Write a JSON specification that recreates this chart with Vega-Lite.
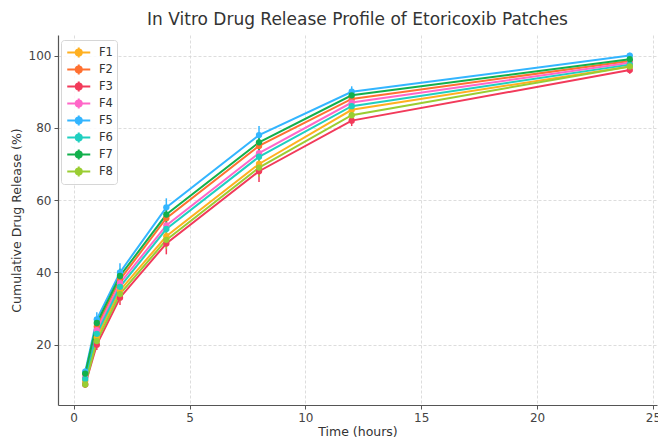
{
  "$schema": "https://vega.github.io/schema/vega-lite/v6.json",
  "width": 599,
  "height": 370,
  "autosize": {"type": "none"},
  "padding": {"left": 58, "top": 35, "right": 1, "bottom": 34},
  "background": "white",
  "title": {
    "text": "In Vitro Drug Release Profile of Etoricoxib Patches",
    "font": "DejaVu Sans",
    "fontSize": 17,
    "fontWeight": "normal",
    "color": "#333333",
    "anchor": "middle",
    "offset": 6
  },
  "config": {
    "view": {"stroke": null},
    "axis": {
      "labelFont": "DejaVu Sans",
      "labelFontSize": 12,
      "labelColor": "#444444",
      "titleFont": "DejaVu Sans",
      "titleFontSize": 12.5,
      "titleFontWeight": "normal",
      "titleColor": "#333333",
      "domainColor": "#555555",
      "domainWidth": 1.2,
      "tickColor": "#555555",
      "tickSize": 4,
      "gridColor": "#d4d4d4",
      "gridDash": [3, 2],
      "gridWidth": 0.8
    }
  },
  "data": {
    "values": [
      {"series": "F1", "time": 0.5, "release": 10, "sd": 1.0},
      {"series": "F1", "time": 1, "release": 22, "sd": 1.5},
      {"series": "F1", "time": 2, "release": 35, "sd": 2.0},
      {"series": "F1", "time": 4, "release": 50, "sd": 2.5},
      {"series": "F1", "time": 8, "release": 70, "sd": 2.5},
      {"series": "F1", "time": 12, "release": 85, "sd": 2.0},
      {"series": "F1", "time": 24, "release": 97, "sd": 1.0},
      {"series": "F2", "time": 0.5, "release": 12, "sd": 1.0},
      {"series": "F2", "time": 1, "release": 25, "sd": 1.5},
      {"series": "F2", "time": 2, "release": 38, "sd": 2.0},
      {"series": "F2", "time": 4, "release": 55, "sd": 2.5},
      {"series": "F2", "time": 8, "release": 75, "sd": 2.5},
      {"series": "F2", "time": 12, "release": 88, "sd": 1.5},
      {"series": "F2", "time": 24, "release": 98.5, "sd": 1.0},
      {"series": "F3", "time": 0.5, "release": 9, "sd": 1.0},
      {"series": "F3", "time": 1, "release": 20, "sd": 1.5},
      {"series": "F3", "time": 2, "release": 33, "sd": 2.0},
      {"series": "F3", "time": 4, "release": 48, "sd": 3.0},
      {"series": "F3", "time": 8, "release": 68, "sd": 3.0},
      {"series": "F3", "time": 12, "release": 82, "sd": 1.5},
      {"series": "F3", "time": 24, "release": 96, "sd": 1.0},
      {"series": "F4", "time": 0.5, "release": 11, "sd": 1.0},
      {"series": "F4", "time": 1, "release": 24, "sd": 1.5},
      {"series": "F4", "time": 2, "release": 37, "sd": 2.0},
      {"series": "F4", "time": 4, "release": 53, "sd": 2.5},
      {"series": "F4", "time": 8, "release": 73, "sd": 2.5},
      {"series": "F4", "time": 12, "release": 87, "sd": 1.5},
      {"series": "F4", "time": 24, "release": 98, "sd": 1.0},
      {"series": "F5", "time": 0.5, "release": 12.5, "sd": 1.0},
      {"series": "F5", "time": 1, "release": 27, "sd": 2.0},
      {"series": "F5", "time": 2, "release": 40, "sd": 2.5},
      {"series": "F5", "time": 4, "release": 58, "sd": 2.5},
      {"series": "F5", "time": 8, "release": 78, "sd": 2.5},
      {"series": "F5", "time": 12, "release": 90, "sd": 1.5},
      {"series": "F5", "time": 24, "release": 100, "sd": 0.8},
      {"series": "F6", "time": 0.5, "release": 10.5, "sd": 1.0},
      {"series": "F6", "time": 1, "release": 23, "sd": 1.5},
      {"series": "F6", "time": 2, "release": 36, "sd": 2.0},
      {"series": "F6", "time": 4, "release": 52, "sd": 2.5},
      {"series": "F6", "time": 8, "release": 72, "sd": 2.5},
      {"series": "F6", "time": 12, "release": 86, "sd": 1.5},
      {"series": "F6", "time": 24, "release": 97.5, "sd": 1.0},
      {"series": "F7", "time": 0.5, "release": 12, "sd": 1.0},
      {"series": "F7", "time": 1, "release": 26, "sd": 1.5},
      {"series": "F7", "time": 2, "release": 39, "sd": 2.0},
      {"series": "F7", "time": 4, "release": 56, "sd": 2.5},
      {"series": "F7", "time": 8, "release": 76, "sd": 2.5},
      {"series": "F7", "time": 12, "release": 89, "sd": 1.5},
      {"series": "F7", "time": 24, "release": 99, "sd": 1.0},
      {"series": "F8", "time": 0.5, "release": 9, "sd": 1.0},
      {"series": "F8", "time": 1, "release": 21, "sd": 1.5},
      {"series": "F8", "time": 2, "release": 34, "sd": 2.0},
      {"series": "F8", "time": 4, "release": 49, "sd": 2.5},
      {"series": "F8", "time": 8, "release": 69, "sd": 2.5},
      {"series": "F8", "time": 12, "release": 83.5, "sd": 1.5},
      {"series": "F8", "time": 24, "release": 97, "sd": 1.0}
    ]
  },
  "encoding": {
    "x": {
      "field": "time",
      "type": "quantitative",
      "title": "Time (hours)",
      "scale": {"domain": [-0.675, 25.175], "nice": false, "zero": false},
      "axis": {"values": [0, 5, 10, 15, 20, 25], "labelPadding": 3, "titlePadding": 2}
    },
    "y": {
      "field": "release",
      "type": "quantitative",
      "title": "Cumulative Drug Release (%)",
      "scale": {"domain": [3.3, 105.7], "nice": false, "zero": false},
      "axis": {"values": [20, 40, 60, 80, 100], "labelPadding": 3, "titlePadding": 5}
    },
    "color": {
      "field": "series",
      "type": "nominal",
      "scale": {
        "domain": ["F1", "F2", "F3", "F4", "F5", "F6", "F7", "F8"],
        "range": ["#FFB020", "#FF7030", "#F23A5A", "#FF66C8", "#33B5FF", "#1FCFC0", "#12B04C", "#9ACD32"]
      }
    }
  },
  "layer": [
    {
      "mark": {"type": "line", "strokeWidth": 2},
      "encoding": {
        "color": {
          "field": "series",
          "type": "nominal",
          "legend": {
            "title": null,
            "orient": "none",
            "legendX": 3,
            "legendY": 5,
            "symbolType": "M-5.75,0H5.75M0,-2.5V2.5M1.5,0A1.5,1.5 0 1,1 -1.5,0A1.5,1.5 0 1,1 1.5,0",
            "symbolSize": 16,
            "symbolOffset": 8,
            "symbolStrokeWidth": 2,
            "labelFont": "DejaVu Sans",
            "labelFontSize": 11.5,
            "labelColor": "#333333",
            "labelOffset": 14.5,
            "clipHeight": 17,
            "rowPadding": 0,
            "padding": 4,
            "strokeColor": "#d6d6d6",
            "fillColor": "rgba(255,255,255,0.85)",
            "cornerRadius": 3,
            "encode": {"symbols": {"update": {"fill": {"scale": "color", "field": "value"}}}}
          }
        }
      }
    },
    {
      "mark": {"type": "errorbar", "thickness": 1.5},
      "encoding": {
        "yError": {"field": "sd"},
        "color": {"field": "series", "type": "nominal", "legend": null}
      }
    },
    {
      "mark": {"type": "point", "filled": true, "size": 40, "opacity": 1},
      "encoding": {
        "color": {"field": "series", "type": "nominal", "legend": null}
      }
    }
  ]
}
